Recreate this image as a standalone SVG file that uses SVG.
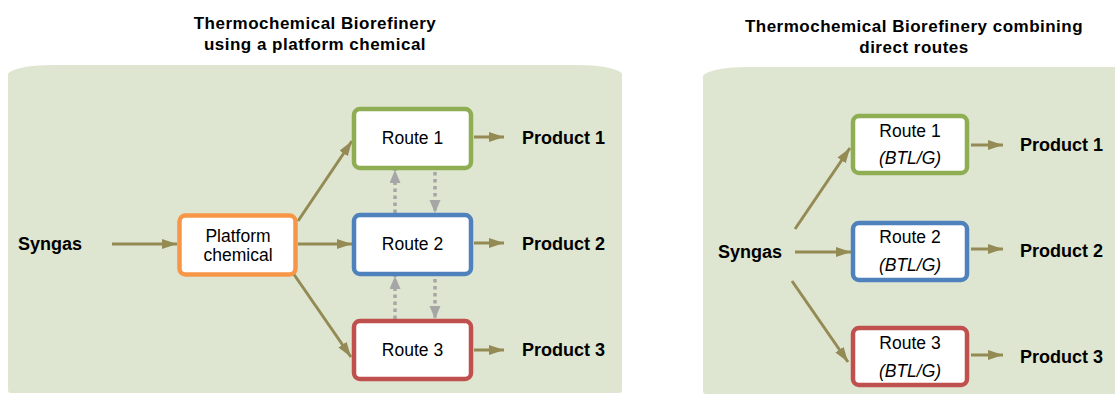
<svg xmlns="http://www.w3.org/2000/svg" width="1115" height="394" viewBox="0 0 1115 394">
<style>
.title{font-family:"Liberation Sans",Arial,sans-serif;font-weight:bold;font-size:17px;letter-spacing:0.5px;fill:#000;text-anchor:middle}
.lbl{font-family:"Liberation Sans",Arial,sans-serif;font-weight:bold;font-size:18px;fill:#000}
.node{font-family:"Liberation Sans",Arial,sans-serif;font-size:17.5px;fill:#000;text-anchor:middle}
.it{font-style:italic}
.panel{fill:#DEE6D1}
.box{fill:#fff;stroke-width:4.5}
.flow{stroke:#948A54;stroke-width:3;fill:none;marker-end:url(#ah)}
.dot{stroke:#A6A6A6;stroke-width:3.5;stroke-dasharray:3.5 3.5;fill:none;marker-end:url(#gh)}
</style>
<defs>
<marker id="ah" markerUnits="userSpaceOnUse" markerWidth="16" markerHeight="12" refX="15" refY="5" orient="auto">
<path d="M0,0 L15,5 L0,10 Z" fill="#948A54"/>
</marker>
<marker id="gh" markerUnits="userSpaceOnUse" markerWidth="14" markerHeight="12" refX="13" refY="5.5" orient="auto">
<path d="M0,0 L13,5.5 L0,11 Z" fill="#A6A6A6"/>
</marker>
</defs>

<g id="panel-left">
<path class="panel" d="M8,76 A45,10 0 0 1 53,65 L577,65 A45,10 0 0 1 622,76 L622,390 Q622,393 619,393 L11,393 Q8,393 8,390 Z"/>
<text class="title" x="315" y="29">Thermochemical Biorefinery</text>
<text class="title" x="315" y="50">using a platform chemical</text>
</g>
<g id="panel-right">
<path class="panel" d="M703,78 A45,10 0 0 1 748,67 L1115,67 L1115,394 L706,394 Q703,394 703,391 Z"/>
<text class="title" x="914" y="32">Thermochemical Biorefinery combining</text>
<text class="title" x="914" y="53">direct routes</text>
</g>

<g id="connectors">
<line class="flow" x1="112" y1="244" x2="177" y2="244"/>
<line class="flow" x1="298" y1="221" x2="352" y2="141"/>
<line class="flow" x1="298" y1="244" x2="352" y2="244"/>
<line class="flow" x1="293" y1="273" x2="351" y2="357"/>
<line class="flow" x1="474" y1="137" x2="504" y2="137"/>
<line class="flow" x1="474" y1="243" x2="504" y2="243"/>
<line class="flow" x1="474" y1="350" x2="504" y2="350"/>
<line class="dot" x1="395" y1="213" x2="395" y2="170"/>
<line class="dot" x1="435" y1="172" x2="435" y2="213"/>
<line class="dot" x1="395" y1="319" x2="395" y2="276"/>
<line class="dot" x1="435" y1="279" x2="435" y2="319"/>
<line class="flow" x1="795" y1="229" x2="850" y2="148"/>
<line class="flow" x1="795" y1="252" x2="851" y2="252"/>
<line class="flow" x1="792" y1="281" x2="848" y2="362"/>
<line class="flow" x1="971" y1="145" x2="1003" y2="145"/>
<line class="flow" x1="971" y1="249" x2="1003" y2="249"/>
<line class="flow" x1="971" y1="355" x2="1003" y2="355"/>
</g>

<g id="syngas-left"><text class="lbl" x="18" y="250">Syngas</text></g>
<g id="platform">
<rect class="box" x="179.5" y="215.5" width="116" height="59" rx="6" stroke="#F79646"/>
<text class="node" x="238" y="242">Platform</text>
<text class="node" x="238" y="261">chemical</text>
</g>
<g id="route1-left">
<rect class="box" x="354" y="109" width="117" height="59" rx="6" stroke="#8FAD52"/>
<text class="node" x="412.5" y="144">Route 1</text>
</g>
<g id="route2-left">
<rect class="box" x="354" y="215" width="117" height="59" rx="6" stroke="#4F81BD"/>
<text class="node" x="412.5" y="250">Route 2</text>
</g>
<g id="route3-left">
<rect class="box" x="354" y="321" width="117" height="58" rx="6" stroke="#C0504D"/>
<text class="node" x="412.5" y="356">Route 3</text>
</g>
<g id="product1-left"><text class="lbl" x="522" y="144">Product 1</text></g>
<g id="product2-left"><text class="lbl" x="522" y="250">Product 2</text></g>
<g id="product3-left"><text class="lbl" x="522" y="356">Product 3</text></g>

<g id="syngas-right"><text class="lbl" x="718" y="258">Syngas</text></g>
<g id="route1-right">
<rect class="box" x="853" y="116" width="114" height="57" rx="6" stroke="#8FAD52"/>
<text class="node" x="910" y="137">Route 1</text>
<text class="node it" x="910" y="164">(BTL/G)</text>
</g>
<g id="route2-right">
<rect class="box" x="853" y="223" width="114" height="57" rx="6" stroke="#4F81BD"/>
<text class="node" x="910" y="243">Route 2</text>
<text class="node it" x="910" y="271">(BTL/G)</text>
</g>
<g id="route3-right">
<rect class="box" x="853" y="328" width="114" height="57" rx="6" stroke="#C0504D"/>
<text class="node" x="910" y="349">Route 3</text>
<text class="node it" x="910" y="377">(BTL/G)</text>
</g>
<g id="product1-right"><text class="lbl" x="1020" y="151">Product 1</text></g>
<g id="product2-right"><text class="lbl" x="1020" y="257">Product 2</text></g>
<g id="product3-right"><text class="lbl" x="1020" y="363">Product 3</text></g>
</svg>
